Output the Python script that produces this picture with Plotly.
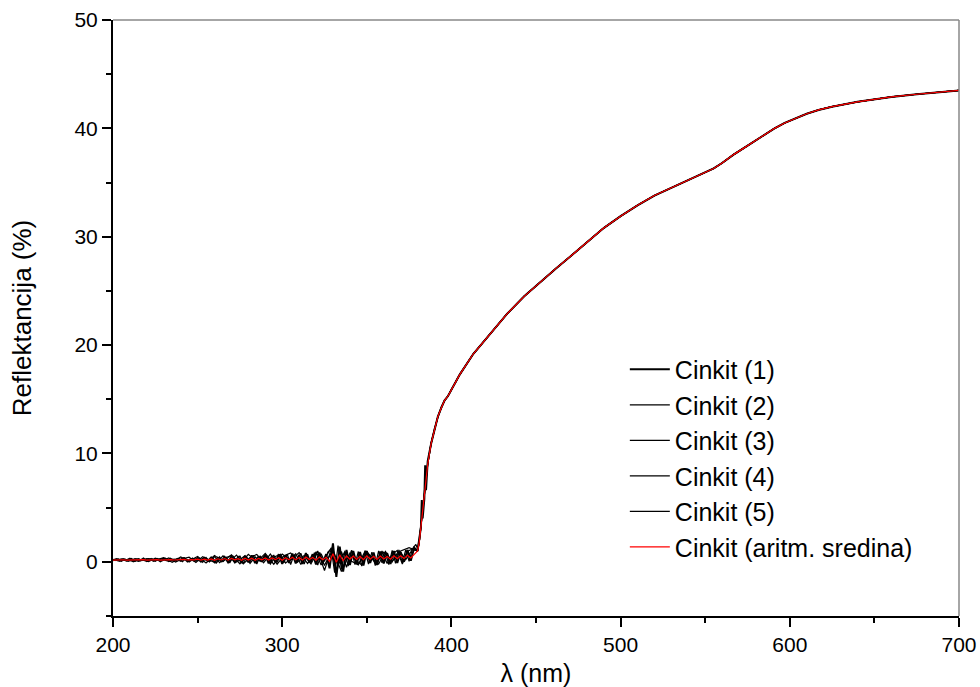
import plotly.graph_objects as go

# ---------------- data ----------------
# noisy low-reflectance part, series 1 (even nm) 200..378
wl_low_1 = list(range(200, 380, 2))
r1_low = [0.15, 0.25, 0.08, 0.22, 0.10, 0.28, 0.05, 0.20, 0.12, 0.30, 0.06, 0.24, 0.10, 0.27, 0.05, 0.22, 0.12, 0.30, 0.08, 0.26, 0.10, 0.32, 0.04, 0.25, 0.10,
          0.35, 0.02, 0.30, 0.08, 0.40, -0.02, 0.38, 0.05, 0.45, -0.05, 0.50, 0.00, 0.42, -0.10, 0.55, -0.05, 0.60, -0.12, 0.50, 0.00, 0.65, -0.15, 0.55, -0.05, 0.70,
          -0.20, 0.60, -0.10, 0.75, -0.15, 0.65, -0.20, 0.80, -0.05, 0.70, -0.25, 0.85, -0.10, 0.70, -0.60, 1.70, -1.40, 1.40, -0.90, 1.10, -0.30, 1.00, -0.20, 0.90, -0.35,
          1.00, -0.10, 0.85, -0.30, 0.95, -0.15, 0.80, -0.20, 1.00, -0.10, 0.90, 0.00, 1.10, 0.10, 1.30]

# series 2 (odd nm) 201..379
wl_low_2 = list(range(201, 381, 2))
r2_low = [0.10, 0.28, 0.06, 0.24, 0.14, 0.30, 0.04, 0.26, 0.12, 0.22, 0.08, 0.30, 0.06, 0.24, 0.14, 0.32, 0.05, 0.25, 0.12, 0.30, 0.02, 0.28, 0.10, 0.34, 0.06,
          0.30, -0.05, 0.40, 0.05, 0.35, -0.08, 0.45, 0.02, 0.40, -0.10, 0.50, 0.05, 0.55, -0.15, 0.45, 0.00, 0.60, -0.20, 0.55, 0.10, 0.50, -0.10, 0.62, -0.05, 0.58,
          -0.10, 0.70, -0.25, 0.65, 0.00, 0.80, -0.20, 0.70, -0.10, 0.85, -0.30, 0.75, 0.05, 0.90, 1.20, -1.00, 1.50, -0.70, 0.90, -0.40, 1.05, -0.25, 0.95, -0.40, 1.00,
          -0.20, 0.90, -0.35, 1.00, -0.10, 0.85, -0.25, 1.05, -0.15, 0.95, -0.05, 1.10, 0.05, 1.20, 1.60]

# series 3 (3 nm step) 200..377
wl_low_3 = list(range(200, 378, 3))
r3_low = [0.22, 0.08, 0.26, 0.12, 0.05, 0.28, 0.14, 0.30, 0.06, 0.20, 0.33, 0.02, 0.25, 0.18, 0.38, -0.02, 0.30, 0.10, 0.42, 0.00,
          0.48, -0.08, 0.35, 0.52, -0.10, 0.20, 0.58, -0.15, 0.45, 0.05, 0.65, -0.20, 0.50, 0.70, -0.12, 0.30, 0.75, -0.25, 0.60, 0.10,
          0.80, -0.30, 0.55, 1.30, -1.10, 0.95, -0.50, 1.05, 0.10, -0.30, 0.90, 0.40, -0.25, 1.00, -0.15, 0.70, 1.05, -0.20, 0.95, 1.20]

# series 4 (4 nm step) 201..377
wl_low_4 = list(range(201, 378, 4))
r4_low = [0.12, 0.27, 0.05, 0.30, 0.18, 0.02, 0.33, 0.10, 0.36, -0.02, 0.28, 0.42, -0.06, 0.48, 0.15, -0.12, 0.55, 0.05, 0.62, -0.18,
          0.40, 0.68, -0.10, 0.72, -0.22, 0.55, 0.82, -0.05, 0.60, -0.20, 1.00, -0.80, 1.20, -0.35, 0.95, 0.05, -0.28, 1.00, 0.30, -0.20,
          0.95, 0.00, 1.05, 0.20, 1.15]

# series 5 (5 nm step) 200..375
wl_low_5 = list(range(200, 376, 5))
r5_low = [0.20, 0.10, 0.28, 0.04, 0.30, 0.15, 0.38, -0.05, 0.45, 0.08, 0.50, -0.10, 0.58, 0.02, 0.65, -0.18, 0.70, 0.00, 0.78, -0.22,
          0.72, 0.15, 0.85, -0.15, 0.90, -0.30, 1.10, -0.90, 0.80, -0.20, 0.95, -0.10, 0.90, 0.05, 1.00, 1.30]

# mean (red) low part, even nm 200..378
rm_low = [0.16, 0.18, 0.15, 0.19, 0.16, 0.18, 0.15, 0.19, 0.17, 0.20, 0.16, 0.19, 0.17, 0.20, 0.16, 0.19, 0.18, 0.21, 0.17, 0.20, 0.18, 0.22, 0.17, 0.21, 0.18,
          0.24, 0.15, 0.25, 0.16, 0.27, 0.14, 0.28, 0.17, 0.30, 0.15, 0.31, 0.18, 0.29, 0.14, 0.33, 0.17, 0.34, 0.15, 0.32, 0.19, 0.36, 0.16, 0.35, 0.20, 0.38,
          0.14, 0.38, 0.20, 0.42, 0.18, 0.40, 0.16, 0.44, 0.22, 0.41, 0.15, 0.45, 0.20, 0.42, 0.05, 0.75, -0.05, 0.65, 0.10, 0.55, 0.25, 0.52, 0.22, 0.50, 0.20,
          0.55, 0.25, 0.50, 0.22, 0.54, 0.26, 0.50, 0.24, 0.56, 0.28, 0.55, 0.30, 0.60, 0.35, 0.70]

# absorption edge
wl_rise = [380, 381, 382, 382.5, 383, 384, 384.5, 385, 386, 388, 390, 392, 394, 396]
r1_rise = [1.0, 1.9, 3.2, 5.7, 4.0, 5.8, 8.9, 6.6, 9.3, 10.9, 12.2, 13.4, 14.2, 14.9]
r2_rise = [1.2, 2.1, 3.5, 4.3, 4.9, 6.3, 7.4, 7.9, 9.1, 11.0, 12.3, 13.4, 14.3, 14.9]
rm_rise = [1.0, 1.8, 3.3, 4.1, 4.7, 5.9, 6.9, 7.4, 9.0, 10.9, 12.2, 13.4, 14.2, 14.9]

# smooth high-reflectance part (all series overlap)
wl_high = [398, 400, 405, 413, 423, 433, 443, 453, 462, 472, 482, 490, 500, 510, 520, 530, 540, 550, 555, 560,
           567, 573, 579, 585, 591, 597, 603, 610, 617, 625, 640, 650, 660, 675, 690, 700]
r_high = [15.3, 15.9, 17.3, 19.2, 21.1, 22.9, 24.5, 25.9, 27.1, 28.4, 29.7, 30.8, 31.9, 32.9, 33.8, 34.5, 35.2, 35.9, 36.3, 36.8,
          37.6, 38.2, 38.8, 39.4, 40.0, 40.5, 40.9, 41.35, 41.7, 42.0, 42.45, 42.7, 42.9, 43.15, 43.35, 43.5]

names = ["Cinkit (1)", "Cinkit (2)", "Cinkit (3)", "Cinkit (4)", "Cinkit (5)", "Cinkit (aritm. sredina)"]

# ---------------- figure ----------------
series = [
    (names[0], wl_low_1 + wl_rise + wl_high, r1_low + r1_rise + r_high, "black", 2),
    (names[1], wl_low_2 + wl_rise + wl_high, r2_low + r2_rise + r_high, "black", 1.2),
    (names[2], wl_low_3 + wl_rise + wl_high, r3_low + rm_rise + r_high, "black", 1.2),
    (names[3], wl_low_4 + wl_rise + wl_high, r4_low + rm_rise + r_high, "black", 1.2),
    (names[4], wl_low_5 + wl_rise + wl_high, r5_low + rm_rise + r_high, "black", 1.2),
    (names[5], wl_low_1 + wl_rise + wl_high, rm_low + rm_rise + r_high, "red", 1.2),
]

fig = go.Figure()
for name, xs, ys, col, w in series:
    fig.add_trace(go.Scatter(x=xs, y=ys, mode="lines", name=name,
                             line=dict(color=col, width=w)))

font_family = "Liberation Sans, Arial, sans-serif"
axis_common = dict(
    showgrid=False, zeroline=False, showline=True, linecolor="black", linewidth=2,
    ticks="outside", ticklen=9, tickwidth=2, tickcolor="black", automargin=False,
    ticklabeloverflow="allow",
    tickfont=dict(family=font_family, size=21, color="black"),
)

fig.update_layout(
    width=980, height=687,
    margin=dict(l=113, r=21, t=20, b=71),
    paper_bgcolor="white", plot_bgcolor="white",
    font=dict(family=font_family, color="black"),
    showlegend=True,
    legend=dict(x=0.605, y=0.452, xanchor="left", yanchor="top",
                font=dict(family=font_family, size=25, color="black"),
                bgcolor="rgba(0,0,0,0)", tracegroupgap=0, itemwidth=40),
    xaxis=dict(range=[200, 700], dtick=100, tick0=200,
               minor=dict(ticks="outside", ticklen=5, tickwidth=2, dtick=50, tickcolor="black"),
               title=dict(text="λ (nm)", font=dict(family=font_family, size=25, color="black"), standoff=17),
               **axis_common),
    yaxis=dict(range=[-5, 50], dtick=10, tick0=0,
               minor=dict(ticks="outside", ticklen=5, tickwidth=2, dtick=5, tickcolor="black"),
               title=dict(text="Reflektancija (%)", font=dict(family=font_family, size=26, color="black"), standoff=35),
               **axis_common),
    shapes=[
        dict(type="line", xref="paper", yref="paper", x0=0, x1=1, y0=1, y1=1, line=dict(color="#888888", width=1.5)),
        dict(type="line", xref="paper", yref="paper", x0=1, x1=1, y0=0, y1=1, line=dict(color="#888888", width=1.5)),
    ],
)

# remove the browser's default 8 px body margin so the 980x687 figure fills the window
fig.write_html("out.html", config={"displayModeBar": False},
               post_script="document.body.style.margin='0';document.body.style.overflow='hidden';")
